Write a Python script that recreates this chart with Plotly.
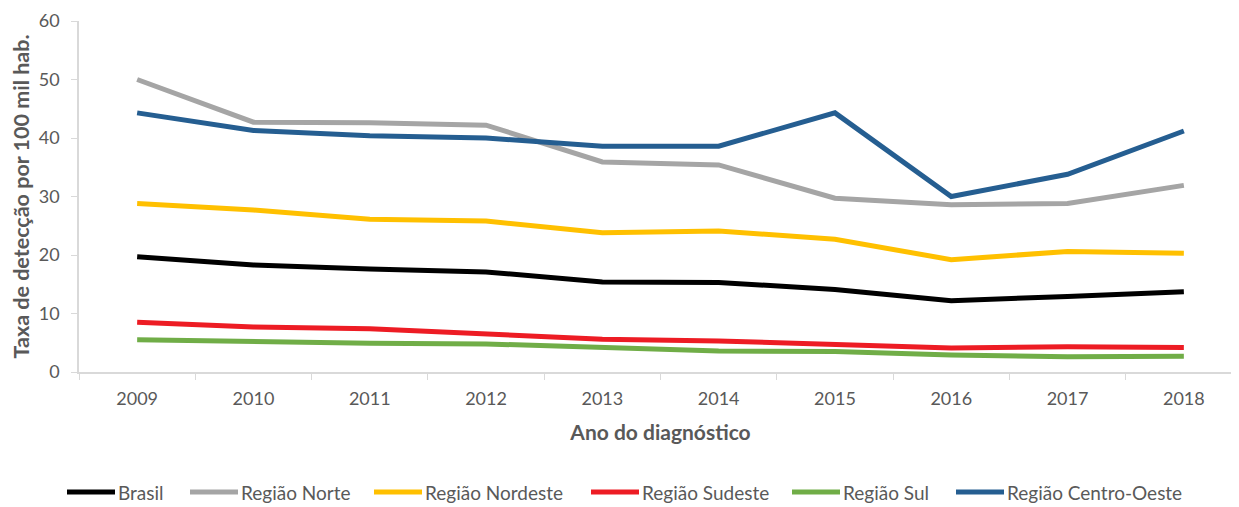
import plotly.graph_objects as go

anos = ["2009", "2010", "2011", "2012", "2013", "2014", "2015", "2016", "2017", "2018"]
brasil = [19.7, 18.3, 17.6, 17.1, 15.4, 15.3, 14.1, 12.2, 12.9, 13.7]
norte = [50.0, 42.7, 42.6, 42.2, 35.9, 35.4, 29.7, 28.6, 28.8, 31.9]
nordeste = [28.8, 27.7, 26.1, 25.8, 23.8, 24.1, 22.7, 19.2, 20.6, 20.3]
sudeste = [8.5, 7.7, 7.4, 6.6, 5.6, 5.3, 4.7, 4.1, 4.3, 4.2]
sul = [5.5, 5.1, 4.9, 4.8, 4.1, 3.6, 3.5, 2.9, 2.6, 2.7]
centro_oeste = [44.3, 41.3, 40.4, 40.0, 38.6, 38.6, 44.3, 30.0, 33.8, 41.2]

series = [
    ("Brasil", brasil, "#000000"),
    ("Região Norte", norte, "#A5A5A5"),
    ("Região Nordeste", nordeste, "#FFC000"),
    ("Região Sudeste", sudeste, "#ED1C24"),
    ("Região Sul", sul, "#70AD47"),
    ("Região Centro-Oeste", centro_oeste, "#255E91"),
]

FONT = "Lato, 'Open Sans', sans-serif"
GREY = "#595959"

# layout (page has an 8px body margin)
W, H = 1239, 507
ML, MR, MT, MB = 71, 5, 13, 143
PLOT_W = W - ML - MR
PLOT_H = H - MT - MB
# legend layout: left pixel of each legend sample (in page coords), row y
legend_left_px = [67, 190, 374, 591, 792, 956]
legend_y_px = 492
sample_len = 48


def px_to_paper_x(px):
    return (px - 8 - ML) / PLOT_W


def px_to_paper_y(py):
    return (H - MB + 8 - py) / PLOT_H


fig = go.Figure()
for name, vals, color in series:
    fig.add_trace(go.Scatter(
        x=anos, y=vals, name=name, mode="lines",
        line=dict(color=color, width=5), showlegend=False,
    ))

ly = px_to_paper_y(legend_y_px)
for (name, vals, color), lx in zip(series, legend_left_px):
    fig.add_shape(type="line", xref="paper", yref="paper",
                  x0=px_to_paper_x(lx), x1=px_to_paper_x(lx + sample_len),
                  y0=ly, y1=ly, line=dict(color=color, width=5))
    fig.add_annotation(xref="paper", yref="paper",
                       x=px_to_paper_x(lx + sample_len + 1), y=ly,
                       xanchor="left", yanchor="middle", showarrow=False,
                       text=name, font=dict(size=19, color=GREY))

fig.update_layout(
    width=W, height=H,
    margin=dict(l=ML, r=MR, t=MT, b=MB),
    plot_bgcolor="white", paper_bgcolor="white",
    font=dict(family=FONT, color=GREY, size=18),
    showlegend=False,
    xaxis=dict(
        type="category", range=[-0.5, 9.5], automargin=False,
        showline=True, linecolor="#D9D9D9", linewidth=1.5,
        ticks="outside", tickson="boundaries", ticklen=6, tickcolor="#D9D9D9",
        ticklabelstandoff=10, ticklabeloverflow="allow",
        showgrid=False, tickfont=dict(size=18, color=GREY),
        title=dict(text="<b>Ano do diagnóstico</b>", font=dict(size=21, color=GREY), standoff=17),
    ),
    yaxis=dict(
        range=[0, 60], dtick=10, automargin=False,
        showline=True, linecolor="#D9D9D9", linewidth=1.5,
        ticks="outside", ticklen=6, tickcolor="#D9D9D9",
        ticklabelstandoff=8, ticklabeloverflow="allow",
        showgrid=False, zeroline=False, tickfont=dict(size=18, color=GREY),
        title=dict(text="<b>Taxa de detecção por 100 mil hab.</b>", font=dict(size=21.5, color=GREY), standoff=4),
    ),
)

fig.write_html("out.html")
